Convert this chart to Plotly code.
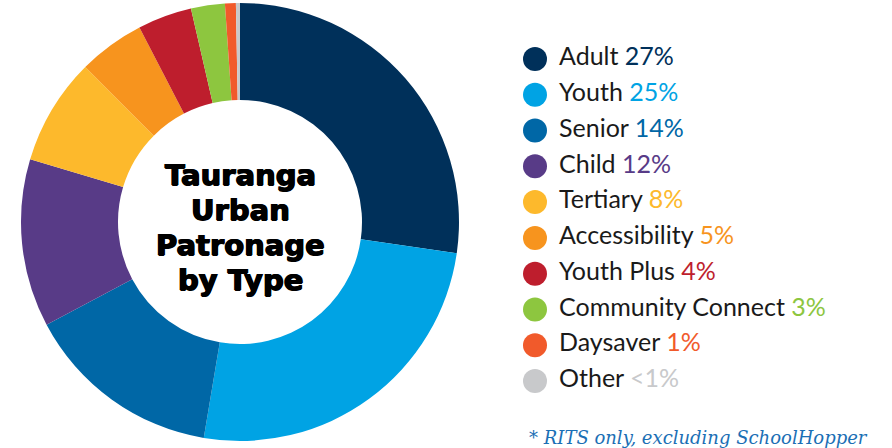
import plotly.graph_objects as go

W, H = 892, 448

categories = ["Adult", "Youth", "Senior", "Child", "Tertiary", "Accessibility",
              "Youth Plus", "Community Connect", "Daysaver", "Other"]
values = [27.3, 25.4, 14.6, 12.4, 7.9, 4.9, 4.0, 2.5, 0.8, 0.3]
pct_labels = ["27%", "25%", "14%", "12%", "8%", "5%", "4%", "3%", "1%", "&lt;1%"]
colors = ["#00305a", "#00a3e4", "#0067a6", "#583b87", "#fdb92c", "#f7941e",
          "#be1e2d", "#8dc63f", "#f15a2b", "#c8c9cb"]
title_lines = ["Tauranga", "Urban", "Patronage", "by Type"]
footnote = "* RITS only, excluding SchoolHopper"


def px(x):
    return x / W


def py(y):
    return 1 - y / H


# pie geometry (window pixels)
cx, cy, R, r_in = 240, 222, 219, 122

fig = go.Figure()
fig.add_trace(go.Pie(
    labels=categories, values=values, sort=False, direction="clockwise",
    rotation=0, hole=r_in / R,
    marker=dict(colors=colors, line=dict(width=0)),
    textinfo="none", hoverinfo="skip", showlegend=False,
    domain=dict(x=[px(cx - R), px(cx + R)], y=[py(cy + R), py(cy - R)]),
))

# legend column
x_dot = 535
text_gap = 24
legend_text = [f"{c} <span style='color:{col}'>{p}</span>"
               for c, col, p in zip(categories, colors, pct_labels)]
idx = list(range(len(categories)))
fig.add_trace(go.Scatter(
    x=[0] * len(categories), y=idx, mode="markers",
    marker=dict(size=24, color=colors, line=dict(width=0)),
    hoverinfo="skip", showlegend=False, cliponaxis=False,
))
fig.add_trace(go.Scatter(
    x=[text_gap] * len(categories), y=idx, mode="text", text=legend_text,
    textposition="middle right",
    textfont=dict(family="Lato, Noto Sans, sans-serif", size=25, color="#1a1a1a"),
    hoverinfo="skip", showlegend=False, cliponaxis=False,
))

y0, y9 = 59, 381
step = (y9 - y0) / 9
top_idx = -y0 / step
bot_idx = top_idx + H / step
fig.update_layout(
    width=W, height=H, margin=dict(l=0, r=0, t=0, b=0),
    paper_bgcolor="white", plot_bgcolor="rgba(0,0,0,0)",
    xaxis=dict(domain=[px(x_dot), 1], range=[0, W - x_dot], visible=False, fixedrange=True),
    yaxis=dict(domain=[0, 1], range=[bot_idx, top_idx], visible=False, fixedrange=True),
)

line_y = [175, 210, 245, 280]
for t, yy in zip(title_lines, line_y):
    fig.add_annotation(
        x=px(cx), y=py(yy), xref="paper", yref="paper", text=t, showarrow=False,
        xanchor="center", yanchor="middle",
        font=dict(family="DejaVu Sans, sans-serif", size=29, color="#000000", weight="bold",
                  shadow="0.7px 0 0 #000, -0.7px 0 0 #000, 0 0.5px 0 #000"),
    )

fig.add_annotation(
    x=px(870), y=py(437), xref="paper", yref="paper", text=f"<i>{footnote}</i>",
    showarrow=False, xanchor="right", yanchor="middle",
    font=dict(family="DejaVu Serif, serif", size=18, color="#1b6fb5"),
)

fig.write_html(
    "out.html",
    config={"displayModeBar": False},
    post_script="document.body.style.margin='0';document.body.style.overflow='hidden';",
)
